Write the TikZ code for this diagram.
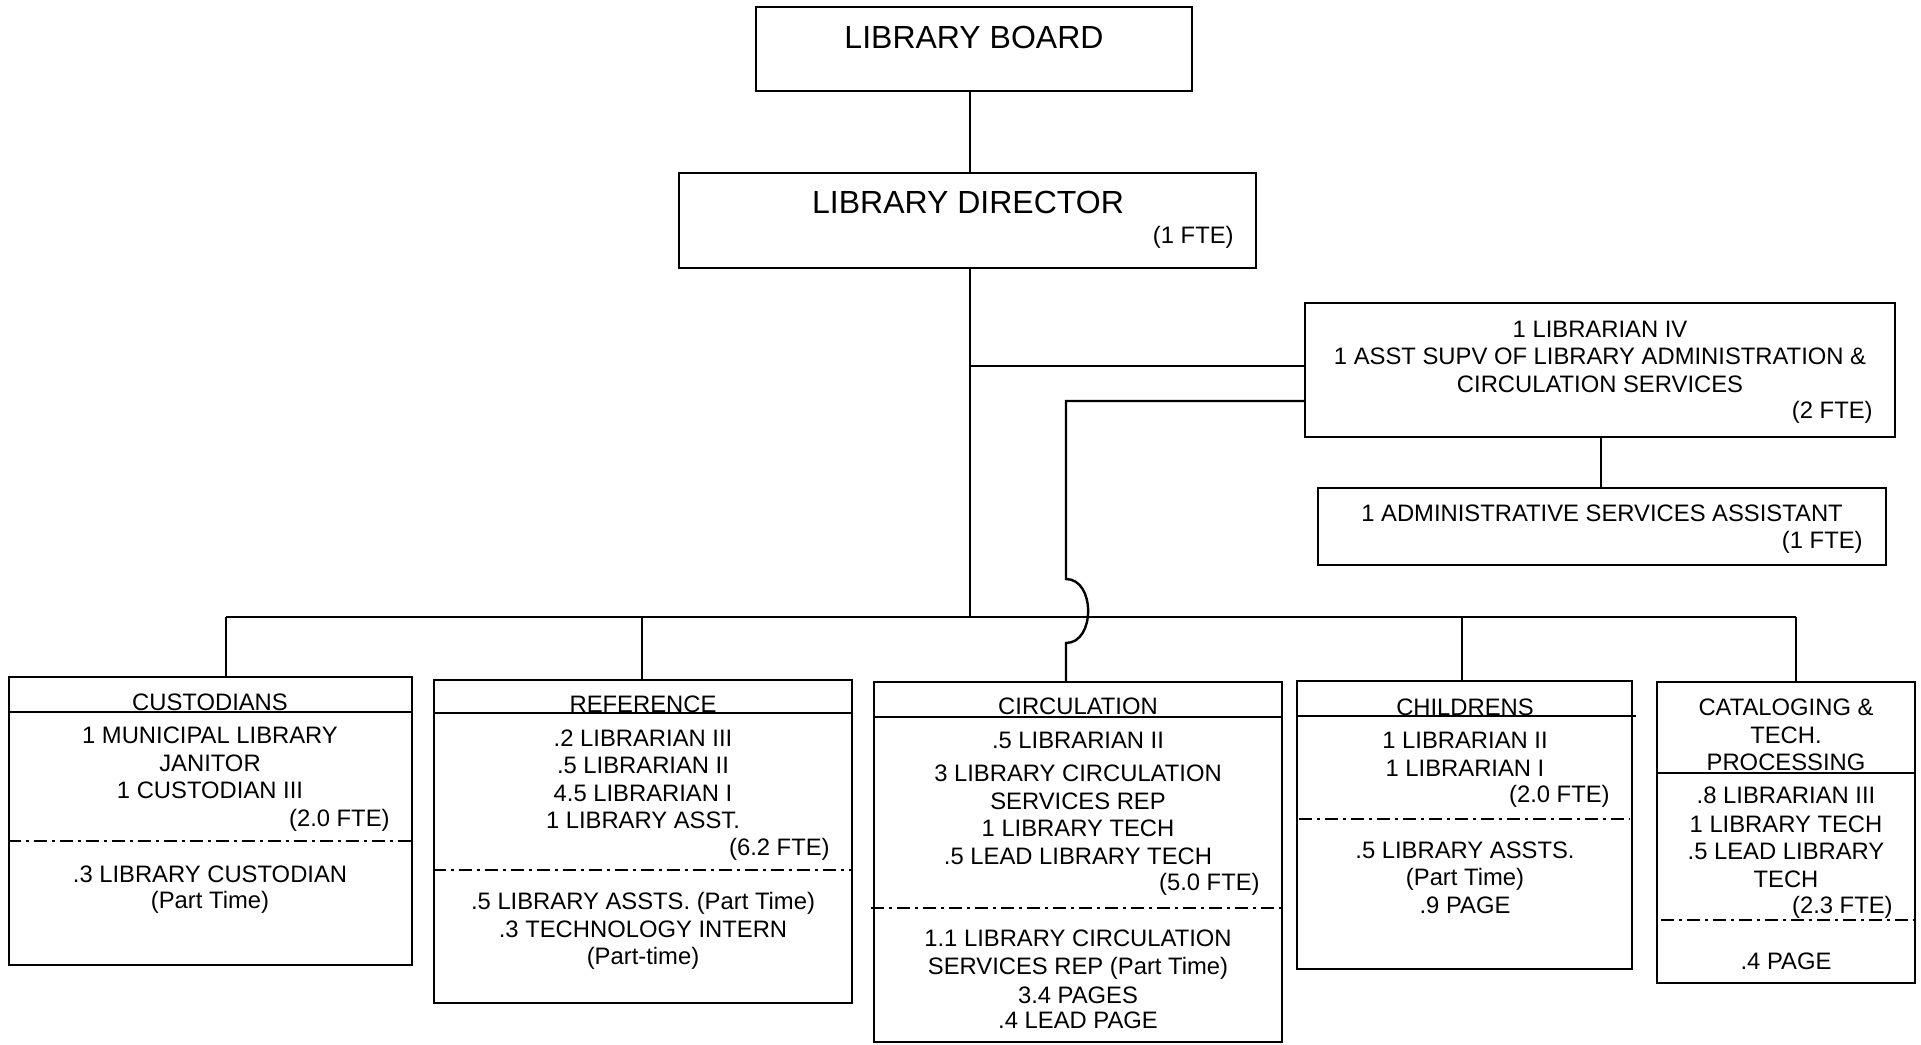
\documentclass[tikz,border=0pt]{standalone}
\usepackage{fontspec}
\setmainfont{Liberation Sans}
\usetikzlibrary{fit,calc}
\begin{document}
\begin{tikzpicture}[x=0.5pt,y=-0.5pt,
  box/.style={draw,line width=1.2pt,inner sep=0pt},
  conn/.style={line width=1.2pt},
  sepline/.style={line width=1.2pt,dash pattern=on 6.5pt off 2.5pt on 1.5pt off 2.5pt},
  txt/.style={font=\fontsize{11.9pt}{14pt}\selectfont,anchor=base,inner sep=0pt},
  fte/.style={txt,anchor=base east},
  big/.style={font=\fontsize{16pt}{19pt}\selectfont,anchor=base,inner sep=0pt}]
\useasboundingbox (0,0) rectangle (1921,1044);
\fill[white] (0,0) rectangle (1921,1044);
% boxes
\node[box,fit={(756,7) (1192,91)}] (board) {};
\node[box,fit={(679,173) (1256,268)}] (director) {};
\node[box,fit={(1305,303) (1895,437)}] (lib4) {};
\node[box,fit={(1318,488) (1886,565)}] (asa) {};
\node[box,fit={(9,677) (412,965)}] (cust) {};
\node[box,fit={(434,680) (852,1003)}] (ref) {};
\node[box,fit={(874,682) (1282,1042)}] (circ) {};
\node[box,fit={(1297,681) (1632,969)}] (chi) {};
\node[box,fit={(1657,682) (1915,983)}] (cat) {};
% header lines
\draw[conn] (cust.west |- 0,712) -- (cust.east |- 0,712);
\draw[conn] (ref.west |- 0,713) -- (ref.east |- 0,713);
\draw[conn] (circ.west |- 0,717) -- (circ.east |- 0,717);
\draw[conn] (chi.west |- 0,716) -- ($(chi.east |- 0,716)+(3,0)$);
\draw[conn] (cat.west |- 0,773) -- (cat.east |- 0,773);
% dash-dot separators
\draw[sepline] (cust.west |- 0,841) -- (cust.east |- 0,841);
\draw[sepline] (ref.west |- 0,870) -- (ref.east |- 0,870);
\draw[sepline] ($(circ.west |- 0,908)+(-2,0)$) -- (circ.east |- 0,908);
\draw[sepline] ($(chi.west |- 0,819)+(3,0)$) -- ($(chi.east |- 0,819)+(-4,0)$);
\draw[sepline] ($(cat.west |- 0,920)+(5,0)$) -- ($(cat.east |- 0,920)+(3,0)$);
% connectors
\coordinate (spine) at (970,617);
\coordinate (busL) at (226,617);
\coordinate (busR) at (1796,617);
\coordinate (dRef) at (642,617);
\coordinate (dChi) at (1462,617);
\coordinate (s1) at (970,366);
\coordinate (c1) at (1066,401);
\coordinate (j1) at (1066,579);
\coordinate (j2) at (1066,643);
\coordinate (a1) at (1601,450);
\draw[conn] (board.south -| spine) -- (director.north -| spine);
\draw[conn] (director.south -| spine) -- (spine);
\draw[conn] (busL) -- (busR);
\draw[conn] (busL) -- (busL |- cust.north);
\draw[conn] (dRef) -- (dRef |- ref.north);
\draw[conn] (dChi) -- (dChi |- chi.north);
\draw[conn] (busR) -- (busR |- cat.north);
\draw[conn] (s1) -- (s1 -| lib4.west);
\draw[conn] (c1 -| lib4.west) -- (c1) -- (j1) .. controls (1095.5,579) and (1095.5,643) .. (j2) -- (j2 |- circ.north);
\draw[conn] (a1 |- lib4.south) -- (a1 |- asa.north);
% texts
\node[big] (tb) at (974,48.5) {LIBRARY BOARD};
\node[big] (td) at (968,213) {LIBRARY DIRECTOR};
\node[fte] (tdf) at (1234,243) {(1 FTE)};
\node[txt] (l41) at (1600,337) {1 LIBRARIAN IV};
\node[txt] (l42) at (1600,364) {1 ASST SUPV OF LIBRARY ADMINISTRATION \&};
\node[txt] (l43) at (1600,392) {CIRCULATION SERVICES};
\node[fte] (l4f) at (1873,418) {(2 FTE)};
\node[txt] (as1) at (1602,521) {1 ADMINISTRATIVE SERVICES ASSISTANT};
\node[fte] (asf) at (1863,548) {(1 FTE)};
% custodians
\node[txt] (cu0) at (210,710) {CUSTODIANS};
\node[txt] (cu1) at (210,743) {1 MUNICIPAL LIBRARY};
\node[txt] (cu2) at (210,771) {JANITOR};
\node[txt] (cu3) at (210,798) {1 CUSTODIAN III};
\node[fte] (cuf) at (390,826) {(2.0 FTE)};
\node[txt] (cu4) at (210,882) {.3 LIBRARY CUSTODIAN};
\node[txt] (cu5) at (210,908) {(Part Time)};
% reference
\node[txt] (re0) at (643,712) {REFERENCE};
\node[txt] (re1) at (643,746) {.2 LIBRARIAN III};
\node[txt] (re2) at (643,773) {.5 LIBRARIAN II};
\node[txt] (re3) at (643,801) {4.5 LIBRARIAN I};
\node[txt] (re4) at (643,828) {1 LIBRARY ASST.};
\node[fte] (ref6) at (830,855) {(6.2 FTE)};
\node[txt] (re5) at (643,909) {.5 LIBRARY ASSTS. (Part Time)};
\node[txt] (re6) at (643,937) {.3 TECHNOLOGY INTERN};
\node[txt] (re7) at (643,964) {(Part-time)};
% circulation
\node[txt] (ci0) at (1078,714) {CIRCULATION};
\node[txt] (ci1) at (1078,748) {.5 LIBRARIAN II};
\node[txt] (ci2) at (1078,781) {3 LIBRARY CIRCULATION};
\node[txt] (ci3) at (1078,809) {SERVICES REP};
\node[txt] (ci4) at (1078,836) {1 LIBRARY TECH};
\node[txt] (ci5) at (1078,864) {.5 LEAD LIBRARY TECH};
\node[fte] (cif) at (1260,890) {(5.0 FTE)};
\node[txt] (ci6) at (1078,946) {1.1 LIBRARY CIRCULATION};
\node[txt] (ci7) at (1078,974) {SERVICES REP (Part Time)};
\node[txt] (ci8) at (1078,1003) {3.4 PAGES};
\node[txt] (ci9) at (1078,1028) {.4 LEAD PAGE};
% childrens
\node[txt] (ch0) at (1465,715) {CHILDRENS};
\node[txt] (ch1) at (1465,748) {1 LIBRARIAN II};
\node[txt] (ch2) at (1465,776) {1 LIBRARIAN I};
\node[fte] (chf) at (1610,802) {(2.0 FTE)};
\node[txt] (ch3) at (1465,858) {.5 LIBRARY ASSTS.};
\node[txt] (ch4) at (1465,885) {(Part Time)};
\node[txt] (ch5) at (1465,913) {.9 PAGE};
% cataloging
\node[txt] (ca0) at (1786,715) {CATALOGING \&};
\node[txt] (ca1) at (1786,743) {TECH.};
\node[txt] (ca2) at (1786,770) {PROCESSING};
\node[txt] (ca3) at (1786,803) {.8 LIBRARIAN III};
\node[txt] (ca4) at (1786,832) {1 LIBRARY TECH};
\node[txt] (ca5) at (1786,859) {.5 LEAD LIBRARY};
\node[txt] (ca6) at (1786,887) {TECH};
\node[fte] (caf) at (1893,913) {(2.3 FTE)};
\node[txt] (ca7) at (1786,969) {.4 PAGE};
\end{tikzpicture}
\end{document}
